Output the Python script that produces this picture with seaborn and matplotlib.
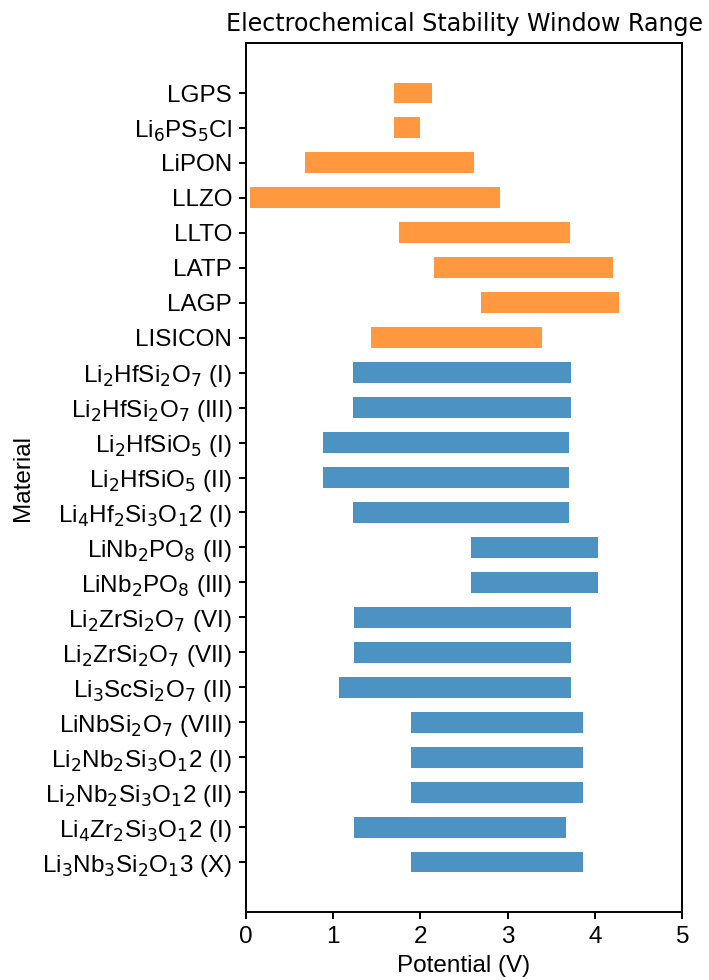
import matplotlib
matplotlib.use("Agg")
import matplotlib.pyplot as plt
import seaborn as sns
import pandas as pd

materials = [
    'LGPS', 'Li$_6$PS$_5$Cl', 'LiPON', 'LLZO', 'LLTO', 'LATP', 'LAGP', 'LISICON',
    'Li$_2$HfSi$_2$O$_7$ (I)', 'Li$_2$HfSi$_2$O$_7$ (III)',
    'Li$_2$HfSiO$_5$ (I)', 'Li$_2$HfSiO$_5$ (II)',
    'Li$_4$Hf$_2$Si$_3$O$_1$2 (I)',
    'LiNb$_2$PO$_8$ (II)', 'LiNb$_2$PO$_8$ (III)',
    'Li$_2$ZrSi$_2$O$_7$ (VI)', 'Li$_2$ZrSi$_2$O$_7$ (VII)',
    'Li$_3$ScSi$_2$O$_7$ (II)', 'LiNbSi$_2$O$_7$ (VIII)',
    'Li$_2$Nb$_2$Si$_3$O$_1$2 (I)', 'Li$_2$Nb$_2$Si$_3$O$_1$2 (II)',
    'Li$_4$Zr$_2$Si$_3$O$_1$2 (I)', 'Li$_3$Nb$_3$Si$_2$O$_1$3 (X)',
]
low = [1.70, 1.70, 0.68, 0.05, 1.75, 2.16, 2.70, 1.43,
       1.23, 1.23, 0.89, 0.89, 1.23, 2.58, 2.58,
       1.24, 1.24, 1.07, 1.89, 1.89, 1.89, 1.24, 1.89]
high = [2.13, 2.00, 2.62, 2.91, 3.71, 4.21, 4.27, 3.39,
        3.72, 3.72, 3.70, 3.70, 3.70, 4.04, 4.04,
        3.72, 3.72, 3.72, 3.86, 3.86, 3.86, 3.67, 3.86]
group = ['known'] * 8 + ['new'] * 15
group_colors = {'known': '#ff7f0e', 'new': '#1f77b4'}

df = pd.DataFrame({'Material': materials, 'low': low, 'high': high, 'group': group})

DPI = 140
fig = plt.figure(figsize=(709 / DPI, 980 / DPI), dpi=DPI)
ax = fig.add_axes([0.3466, 0.0694, 0.9623 - 0.3466, 0.9561 - 0.0694])

palette = {m: group_colors[g] for m, g in zip(materials, group)}
sns.barplot(data=df, y='Material', x='high', hue='Material', palette=palette,
            order=materials, hue_order=materials, dodge=False, legend=False,
            saturation=1, width=0.6, alpha=0.8, ax=ax, orient='y')

# turn the bars into floating ranges [low, high]
for p in ax.patches:
    idx = int(round(p.get_y() + p.get_height() / 2))
    p.set_x(df['low'].iloc[idx])
    p.set_width(df['high'].iloc[idx] - df['low'].iloc[idx])

n = len(materials)
pad = 1.43
ax.set_ylim(n - 1 + pad, -pad)
ax.set_xlim(0, 5)
ax.set_xticks([0, 1, 2, 3, 4, 5])

for s in ax.spines.values():
    s.set_linewidth(1.0)
ax.tick_params(width=1.0, length=3.5)

lab_font = ['Liberation Sans', 'DejaVu Sans']
fs = 12.5
for t in ax.get_yticklabels() + ax.get_xticklabels():
    t.set_fontfamily(lab_font)
    t.set_fontsize(fs)
ax.set_xlabel('Potential (V)', fontsize=fs, family=lab_font)
ax.set_ylabel('Material', fontsize=fs, family=lab_font)
ax.set_title('Electrochemical Stability Window Range', fontsize=12.2, family='DejaVu Sans')

fig.savefig('out.png', dpi=DPI)
